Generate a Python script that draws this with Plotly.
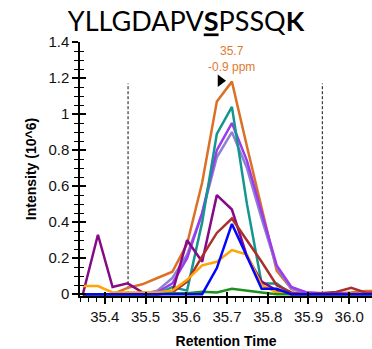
import plotly.graph_objects as go

# ---- data ----
times = [35.346, 35.383, 35.419, 35.456, 35.492, 35.529, 35.566, 35.602, 35.639, 35.675,
         35.712, 35.749, 35.785, 35.822, 35.858, 35.895, 35.932, 35.968, 36.005, 36.041, 36.078]

chocolate = [0, 0, 0.0, 0.035, 0.055, 0.09, 0.125, 0.28, 0.62, 1.07, 1.18, 0.82, 0.48, 0.13, 0.03, 0.01, 0.005, 0.005, 0.01, 0.018, 0.018]
lavender = [0, 0, 0, 0, 0, 0.02, 0.09, 0.22, 0.45, 0.76, 0.90, 0.70, 0.42, 0.15, 0.03, 0.01, 0, 0, 0, 0, 0]
violet = [0, 0, 0, 0, 0, 0.01, 0.06, 0.20, 0.45, 0.80, 0.95, 0.74, 0.45, 0.16, 0.04, 0.01, 0.005, 0.005, 0, 0, 0]
teal = [0, 0, 0, 0, 0, 0, 0.04, 0.02, 0.40, 0.89, 1.04, 0.50, 0.06, 0.06, 0, 0, 0, 0, 0, 0, 0]
purple = [0, 0.33, 0.04, 0.06, 0.01, 0.0, 0.01, 0.30, 0.18, 0.55, 0.47, 0.21, 0.07, 0.02, 0, 0, 0, 0, 0, 0, 0]
brown = [0, 0, 0, 0, 0, 0, 0.01, 0.07, 0.21, 0.34, 0.42, 0.30, 0.18, 0.05, 0.01, 0, 0.005, 0.012, 0.035, 0.008, 0.008]
amber = [0.045, 0.045, 0.01, 0.01, 0.01, 0.01, 0.02, 0.08, 0.16, 0.18, 0.245, 0.22, 0.05, 0.01, 0.0, 0, 0, 0, 0, 0, 0]
green = [0, 0, 0, 0, 0, 0, 0.005, 0.005, 0.013, 0.01, 0.03, 0.022, 0.01, 0.0, 0, 0, 0, 0, 0, 0, 0]
blue = [0, 0, 0, 0, 0, 0, 0, 0, 0, 0.145, 0.39, 0.21, 0.03, 0.03, 0, 0, 0, 0, 0, 0, 0]

series = [
    ("chocolate", chocolate, "#DC7027"),
    ("lavender", lavender, "#8C80D2"),
    ("violet", violet, "#9B3BEB"),
    ("teal", teal, "#15958F"),
    ("purple", purple, "#850A85"),
    ("brown", brown, "#A8312E"),
    ("amber", amber, "#FFA405"),
    ("green", green, "#1E901E"),
    ("blue", blue, "#0505FA"),
]

boundaries = [35.457, 35.934]
boundary_top = 1.17

apex_time = 35.712
apex_value = 1.18
apex_label = "35.7<br>-0.9 ppm"
marker_time = 35.684
marker_value = 1.185

x_range = [35.339, 36.056]
y_range = [-0.01, 1.4]

fig = go.Figure()

for b in boundaries:
    fig.add_trace(go.Scatter(x=[b, b], y=[0, boundary_top], mode="lines",
                             line=dict(color="#111111", width=1, dash="3px,2px"),
                             showlegend=False, hoverinfo="skip"))

for name, vals, col in series:
    fig.add_trace(go.Scatter(x=times, y=vals, mode="lines", name=name,
                             line=dict(color=col, width=2.5), showlegend=False))

fig.add_trace(go.Scatter(x=[marker_time], y=[marker_value], mode="markers",
                         marker=dict(symbol="triangle-right", size=11, color="black"),
                         showlegend=False))

# dummy trace for overlay axes (inside ticks)
fig.add_trace(go.Scatter(x=[], y=[], xaxis="x2", yaxis="y2", showlegend=False))

tickfont = dict(family="Liberation Sans, Arial", size=15, color="#111111")

fig.add_annotation(x=apex_time, y=apex_value, text=apex_label, showarrow=False,
                   yanchor="bottom", yshift=6,
                   font=dict(family="Liberation Sans, Arial", size=12, color="#E07A30"))

fig.update_layout(
    width=372, height=349,
    margin=dict(l=80, r=0, t=42, b=53),
    plot_bgcolor="white", paper_bgcolor="white",
    title=dict(text="YLLGDAPV<b><u>S</u></b>PSSQ<b>K</b>", x=0.5, xanchor="center",
               y=1 - 22 / 349, yanchor="middle",
               font=dict(family="Lato", size=27, color="black")),
    xaxis=dict(range=x_range, showgrid=False, zeroline=False, showline=True,
               linecolor="black", linewidth=1.5, ticks="outside", ticklen=6, tickwidth=1.5,
               tickcolor="black", dtick=0.1, tick0=35.4, tickformat=".1f", tickfont=tickfont,
               minor=dict(dtick=0.02, tick0=35.4, ticks="outside", ticklen=4, tickcolor="black", tickwidth=1),
               title=dict(text="<b>Retention Time</b>", font=dict(family="Liberation Sans, Arial", size=14, color="black"), standoff=12)),
    yaxis=dict(range=y_range, showgrid=False, zeroline=False, showline=True,
               linecolor="black", linewidth=1.5, ticks="outside", ticklen=6, tickwidth=1.5,
               tickcolor="black", dtick=0.2, tick0=0, tickfont=tickfont,
               minor=dict(dtick=0.05, tick0=0, ticks="outside", ticklen=4, tickcolor="black", tickwidth=1),
               title=dict(text="<b>Intensity (10^6)</b>", font=dict(family="Liberation Sans, Arial", size=14, color="black"), standoff=8)),
    xaxis2=dict(range=x_range, overlaying="x", anchor="y", side="bottom", showgrid=False, zeroline=False,
                showline=False, ticks="inside", ticklen=4, tickwidth=1.5, tickcolor="black",
                dtick=0.1, tick0=35.4, showticklabels=False),
    yaxis2=dict(range=y_range, overlaying="y", anchor="x", side="left", showgrid=False, zeroline=False,
                showline=False, ticks="inside", ticklen=6, tickwidth=1.5, tickcolor="black",
                dtick=0.2, tick0=0, showticklabels=False,
                minor=dict(dtick=0.05, tick0=0, ticks="inside", ticklen=4, tickcolor="black", tickwidth=1)),
)

fig.write_html("out.html")
